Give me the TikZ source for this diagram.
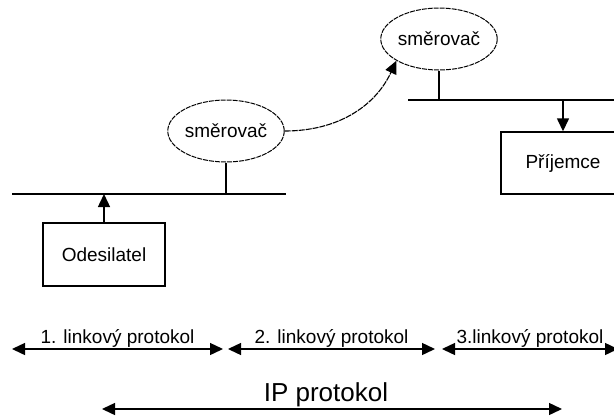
\documentclass[tikz,border=0pt]{standalone}
\usepackage{fontspec}
\setmainfont{Liberation Sans}
\usetikzlibrary{arrows.meta,positioning,shapes.geometric}

\begin{document}
\begin{tikzpicture}[x=1pt,y=-1pt,line width=1.4pt,font=\fontsize{19}{22}\selectfont,
  router/.style={ellipse,draw,line width=1pt,dash pattern=on 5pt off 1pt,
    minimum width=106pt,minimum height=62pt,inner sep=0pt},
  hostbox/.style={rectangle,draw,minimum width=122pt,minimum height=63pt,inner sep=0pt},
  tip/.style={-{Triangle[length=13pt,width=12pt]}},
  protspan/.style={{Triangle[length=13pt,width=12pt]}-{Triangle[length=13pt,width=12pt]}}]
\useasboundingbox (0,0) rectangle (614,416);
\clip (0,0) rectangle (614,416);
% routers and hosts
\node[router] (r1) at (226,131) {směrovač};
\node[router] (r2) at (439,39) {směrovač};
\node[hostbox] (odes) at (104,254.5) {Odesilatel};
\node[hostbox,minimum width=124pt,minimum height=62pt] (prij) at (563,163) {Příjemce};
% the two networks
\coordinate (busL-w) at (12,194); \coordinate (busL-e) at (286,194);
\coordinate (busR-w) at (408,100); \coordinate (busR-e) at (620,100);
\draw (busL-w) -- (busL-e);
\draw (busR-w) -- (busR-e);
\draw (r1.south) -- (r1.south |- busL-w);
\draw (r2.south) -- (r2.south |- busR-w);
\draw[tip] (odes.north) -- (odes.north |- busL-w);
\draw[tip] (prij.north |- busR-w) -- (prij.north);
\draw[tip,line width=1.1pt,dash pattern=on 6pt off 1pt] (r1.east) to[out=0,in=245] (r2.207);
% protocols
\foreach \name/\from/\to/\lab in {%
  l1/12/223/{1. linkový protokol},
  l2/228/435/{2. linkový protokol},
  l3/442/618/{3.linkový protokol}}{%
  \coordinate (\name-w) at (\from,349);
  \coordinate (\name-e) at (\to,349);
  \draw[protspan] (\name-w) -- (\name-e) node[midway,anchor=base,yshift=6pt] {\lab};
}
\node[anchor=base,font=\fontsize{26}{30}\selectfont] (ip) at (326,401) {IP protokol};
\coordinate (ip-w) at (102,409); \coordinate (ip-e) at (562,409);
\draw[protspan] (ip-w) -- (ip-e);
\end{tikzpicture}
\end{document}
